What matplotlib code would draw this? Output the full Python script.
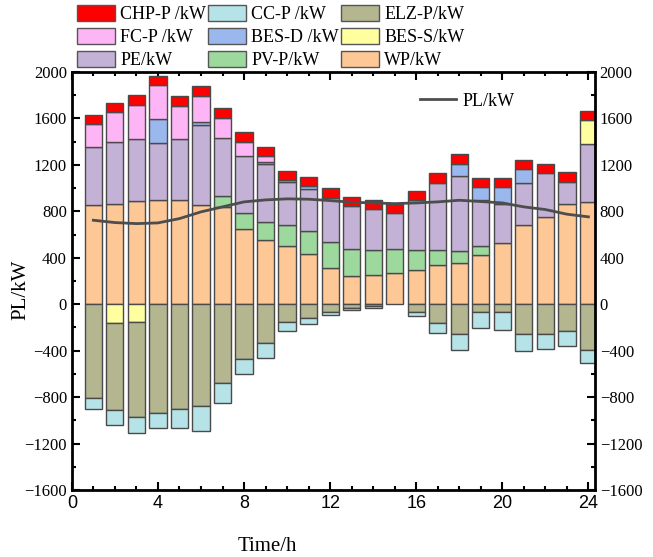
import numpy as np
import matplotlib
matplotlib.use("Agg")
import matplotlib.pyplot as plt
from matplotlib.ticker import MultipleLocator

plt.rcParams["font.family"] = ["Liberation Serif", "DejaVu Serif"]

hours = list(range(1, 25))

# positive side (stacked bottom -> top)
wp = [858, 866, 889, 895, 901, 858, 838, 651, 557, 505, 436, 316,
      244, 255, 267, 295, 341, 356, 427, 531, 683, 749, 866, 884]
pv = [0, 0, 0, 0, 0, 0, 92, 138, 154, 181, 195, 223,
      235, 215, 209, 175, 129, 100, 78, 0, 0, 0, 0, 0]
pe = [496, 534, 531, 496, 519, 683, 504, 491, 500, 370, 365, 379,
      367, 351, 313, 425, 577, 649, 390, 330, 361, 381, 187, 499]
bes_d = [0, 0, 0, 207, 0, 25, 0, 0, 11, 14, 22, 0,
         0, 0, 0, 0, 0, 103, 115, 149, 121, 0, 0, 0]
fc = [201, 255, 298, 287, 290, 230, 173, 120, 55, 0, 0, 0,
      0, 0, 0, 0, 0, 0, 0, 0, 0, 0, 0, 0]
bes_s_pos = [0] * 23 + [201]
chp = [77, 81, 81, 80, 80, 83, 83, 80, 80, 80, 81, 80,
       81, 80, 77, 83, 83, 83, 80, 80, 80, 81, 83, 77]

# negative side (stacked top -> down)
bes_s_neg = [0, -161, -155, 0, 0, 0, 0, 0, 0, 0, 0, 0,
             0, 0, 0, 0, 0, 0, 0, 0, 0, 0, 0, 0]
elz = [-806, -746, -818, -935, -898, -872, -674, -473, -336, -149, -115, -66,
       -29, -14, 0, -66, -158, -258, -63, -63, -258, -252, -232, -390]
cc = [-98, -129, -132, -127, -169, -215, -175, -124, -123, -81, -57, -29,
      -23, -20, 0, -37, -89, -138, -144, -158, -147, -135, -129, -118]

pl = [723, 703, 694, 700, 737, 795, 838, 881, 898, 907, 904, 892,
      878, 872, 866, 872, 881, 895, 884, 872, 838, 815, 775, 752]

colors = {
    "CHP-P /kW": "#FF0000",
    "CC-P /kW": "#B5E3E8",
    "ELZ-P/kW": "#B3B68F",
    "FC-P /kW": "#FDB5F5",
    "BES-D /kW": "#9BB8EE",
    "BES-S/kW": "#FFFFA0",
    "PE/kW": "#C3B1D6",
    "PV-P/kW": "#9DD89C",
    "WP/kW": "#FDC796",
}

fig = plt.figure(figsize=(6.53, 5.57), dpi=100)
ax = fig.add_axes([0.110, 0.120, 0.801, 0.751])

w = 0.8
kw = dict(width=w, edgecolor="#4a4a4a", linewidth=1.0, zorder=2)
x = np.array(hours)

bottom = np.zeros(24)
for name, vals in [("WP/kW", wp), ("PV-P/kW", pv), ("PE/kW", pe),
                   ("BES-D /kW", bes_d), ("FC-P /kW", fc), ("BES-S/kW", bes_s_pos),
                   ("CHP-P /kW", chp)]:
    v = np.array(vals, dtype=float)
    m = v != 0
    ax.bar(x[m], v[m], bottom=bottom[m], color=colors[name], **kw)
    bottom += v

bottom = np.zeros(24)
for name, vals in [("BES-S/kW", bes_s_neg), ("ELZ-P/kW", elz), ("CC-P /kW", cc)]:
    v = np.array(vals, dtype=float)
    m = v != 0
    ax.bar(x[m], v[m], bottom=bottom[m], color=colors[name], **kw)
    bottom += v

line, = ax.plot(hours, pl, color="#4d4d4d", linewidth=2.0, zorder=3)

ax.set_xlim(0, 24.3)
ax.set_ylim(-1600, 2000)
ax.xaxis.set_major_locator(MultipleLocator(4))
ax.xaxis.set_minor_locator(MultipleLocator(1))
ax.yaxis.set_major_locator(MultipleLocator(400))
ax.yaxis.set_minor_locator(MultipleLocator(200))
ax.tick_params(which="both", direction="in", top=True, right=True,
               labelright=True, width=1.5)
ax.tick_params(which="major", length=6)
ax.tick_params(which="minor", length=3)
for s in ax.spines.values():
    s.set_linewidth(2.0)
for lab in ax.get_yticklabels():
    lab.set_fontsize(12)
for lab in ax.get_xticklabels():
    lab.set_family("Liberation Sans")
    lab.set_fontsize(13)

ax.set_xlabel("Time/h", fontsize=15)
ax.xaxis.set_label_coords(0.373, -0.112)
ax.set_ylabel("PL/kW", fontsize=15)
ax.yaxis.set_label_coords(-0.079, 0.478)

order = ["CHP-P /kW", "FC-P /kW", "PE/kW",
         "CC-P /kW", "BES-D /kW", "PV-P/kW",
         "ELZ-P/kW", "BES-S/kW", "WP/kW"]
handles = [plt.Rectangle((0, 0), 1, 1, facecolor=colors[n], edgecolor="#555555",
                         linewidth=1.0) for n in order]
fig.legend(handles, order, ncol=3, loc="upper left",
           bbox_to_anchor=(0.118, 0.991), frameon=False, fontsize=13,
           handlelength=2.1, handleheight=1.0, handletextpad=0.3,
           columnspacing=0.1, labelspacing=0.25, borderpad=0.0,
           borderaxespad=0.0)

ax.legend([line], ["PL/kW"], loc="center left", bbox_to_anchor=(0.665, 0.93),
          frameon=False, fontsize=13, handlelength=2.0, handletextpad=0.4,
          borderpad=0.0, borderaxespad=0.0)

fig.savefig("out.png", dpi=100)
